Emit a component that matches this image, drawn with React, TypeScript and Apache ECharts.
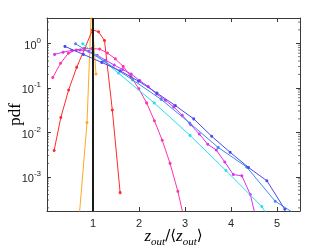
import React, { useEffect, useRef } from "react";
import * as echarts from "echarts";

// Series data (x = z_out/<z_out>, y = pdf)
const redX = [0.155, 0.3, 0.47, 0.645, 0.82, 0.99, 1.12, 1.25, 1.42, 1.59];
const redY = [0.0039, 0.0214, 0.089, 0.288, 0.76, 2.0, 1.82, 1.15, 0.0316, 0.00044];

const orangeX = [0.7, 0.87, 0.965, 1.065];
const orangeY = [0.000126, 0.0166, 6.0, 0.204];

const pinkX = [0.125, 0.295, 0.465, 0.635, 0.805, 0.975, 1.145, 1.315, 1.485, 1.655, 1.825, 1.995, 2.165, 2.335, 2.505, 2.675, 2.845, 3.015];
const pinkY = [0.17, 0.355, 0.596, 0.708, 0.759, 0.759, 0.741, 0.603, 0.447, 0.302, 0.178, 0.0955, 0.0457, 0.0182, 0.0066, 0.002, 0.00047, 0.000079];

const magentaX = [0.165, 0.35, 0.535, 0.72, 0.905, 1.09, 1.275, 1.46, 1.645, 1.83, 2.015, 2.2, 2.385, 2.57, 2.755, 2.94, 3.125, 3.31, 3.495, 3.68, 3.865, 4.05, 4.235, 4.42, 4.605];
const magentaY = [0.562, 0.631, 0.692, 0.708, 0.661, 0.537, 0.417, 0.324, 0.257, 0.204, 0.145, 0.107, 0.0724, 0.0525, 0.0372, 0.024, 0.0148, 0.00912, 0.00537, 0.00398, 0.00214, 0.00112, 0.00105, 0.000398, 0.000063];

const cyanX = [0.775, 1.55, 2.33, 3.11, 3.89, 4.67, 5.45];
const cyanY = [0.977, 0.214, 0.0457, 0.0085, 0.00138, 0.000214, 0.0000107];

const lightBlueX = [0.62, 1.24, 1.86, 2.48, 3.1, 3.72, 4.34, 4.96, 5.58];
const lightBlueY = [0.977, 0.398, 0.151, 0.055, 0.0162, 0.00457, 0.00166, 0.000282, 0.00011];

const blueX = [0.39, 0.79, 1.19, 1.59, 1.99, 2.39, 2.79, 3.19, 3.58, 3.98, 4.38, 4.78, 5.17];
const blueY = [0.851, 0.562, 0.372, 0.24, 0.141, 0.0759, 0.0398, 0.02, 0.00813, 0.00355, 0.00162, 0.000813, 0.000186];

const refLineX = 1;

const xTicks = [1, 2, 3, 4, 5];
const yDecades = [0.0001, 0.001, 0.01, 0.1, 1];
const minorMultipliers = [2, 3, 4, 5, 6, 7, 8, 9];

const X_MIN = 0;
const X_MAX = 5.5;
const Y_MIN = 1.7e-4;
const Y_MAX = 3.7;

const AX = "#3a3a3a";

function pairs(xs: number[], ys: number[]) {
  return xs.map((x, i) => [x, ys[i]]);
}

export default function App() {
  const ref = useRef<HTMLDivElement>(null);
  useEffect(() => {
    const chart = echarts.init(ref.current!, null, { renderer: "svg" });

    const mk = (name: string, xs: number[], ys: number[], color: string, z: number) => ({
      type: "line",
      name,
      data: pairs(xs, ys),
      symbol: "circle",
      symbolSize: 3,
      showSymbol: true,
      showAllSymbol: true,
      lineStyle: { color, width: 1 },
      itemStyle: { color },
      clip: true,
      silent: true,
      z,
    });

    const minorVals: number[][] = [];
    yDecades.forEach((d) =>
      minorMultipliers.forEach((m) => {
        const v = d * m;
        if (v > Y_MIN && v < Y_MAX) minorVals.push([X_MIN, v]);
      })
    );

    const axisLine = { show: true, onZero: false, lineStyle: { color: AX, width: 1 } };
    const tick = { show: true, inside: true, length: 4, lineStyle: { color: AX, width: 1 } };

    chart.setOption({
      animation: false,
      grid: { left: 47, right: 32, top: 18, bottom: 38, containLabel: false, outerBoundsMode: "none" },
      xAxis: [
        {
          type: "value",
          min: X_MIN,
          max: X_MAX,
          interval: 1,
          position: "bottom",
          axisLine,
          axisTick: tick,
          splitLine: { show: false },
          axisLabel: {
            color: "#262626",
            fontSize: 11,
            fontFamily: "Liberation Sans",
            margin: 6,
            formatter: (v: number) => (xTicks.indexOf(v) >= 0 ? String(v) : ""),
          },
          name: "{i|z}{s|out}{n|/⟨}{i|z}{s|out}{n|⟩}",
          nameLocation: "middle",
          nameGap: 13,
          nameMoveOverlap: false,
          nameTextStyle: {
            rich: {
              i: { fontFamily: "Liberation Serif", fontStyle: "italic", fontSize: 17, color: "#000", verticalAlign: "middle", lineHeight: 22 },
              s: { fontFamily: "Liberation Serif", fontStyle: "italic", fontSize: 11, color: "#000", verticalAlign: "bottom", lineHeight: 22 },
              n: { fontFamily: "DejaVu Serif", fontSize: 15, color: "#000", verticalAlign: "middle", lineHeight: 22 },
            },
          },
        },
        {
          type: "value",
          min: X_MIN,
          max: X_MAX,
          interval: 1,
          position: "top",
          axisLine,
          axisTick: tick,
          splitLine: { show: false },
          axisLabel: { show: false },
        },
      ],
      yAxis: [
        {
          type: "log",
          logBase: 10,
          min: Y_MIN,
          max: Y_MAX,
          position: "left",
          axisLine,
          axisTick: tick,
          splitLine: { show: false },
          axisLabel: {
            margin: 6,
            formatter: (v: number) => {
              const e = Math.log10(v);
              const r = Math.round(e);
              if (Math.abs(e - r) > 1e-6) return "";
              return "{b|10}{s|" + r + "}";
            },
            rich: {
              b: { fontSize: 11, fontFamily: "Liberation Sans", color: "#262626", verticalAlign: "bottom", lineHeight: 14 },
              s: { fontSize: 8, fontFamily: "Liberation Sans", color: "#262626", verticalAlign: "top", lineHeight: 14 },
            },
          },
          name: "pdf",
          nameLocation: "middle",
          nameGap: 24,
          nameMoveOverlap: false,
          nameRotate: 90,
          nameTextStyle: { fontFamily: "Liberation Serif", fontSize: 17, color: "#000" },
        },
        {
          type: "log",
          logBase: 10,
          min: Y_MIN,
          max: Y_MAX,
          position: "right",
          axisLine,
          axisTick: tick,
          splitLine: { show: false },
          axisLabel: { show: false },
        },
      ],
      series: [
        mk("orange", orangeX, orangeY, "#FFA826", 2),
        mk("red", redX, redY, "#FF2A2A", 3),
        mk("pink", pinkX, pinkY, "#FF33AA", 4),
        mk("magenta", magentaX, magentaY, "#D633F0", 5),
        mk("cyan", cyanX, cyanY, "#22E0F0", 6),
        mk("lightblue", lightBlueX, lightBlueY, "#3C8CF0", 7),
        mk("blue", blueX, blueY, "#4A48EE", 8),
        {
          type: "line",
          data: [
            [refLineX, Y_MIN],
            [refLineX, Y_MAX],
          ],
          symbol: "none",
          lineStyle: { color: "#1a1a1a", width: 2 },
          silent: true,
          z: 10,
        },
        {
          type: "custom",
          data: minorVals,
          silent: true,
          z: 11,
          renderItem: (_p: any, api: any) => {
            const v = api.value(1);
            const pl = api.coord([X_MIN, v]);
            const pr = api.coord([X_MAX, v]);
            return {
              type: "group",
              children: [
                { type: "line", shape: { x1: pl[0], y1: pl[1], x2: pl[0] + 2, y2: pl[1] }, style: { stroke: AX, lineWidth: 0.7 } },
                { type: "line", shape: { x1: pr[0] - 2, y1: pr[1], x2: pr[0], y2: pr[1] }, style: { stroke: AX, lineWidth: 0.7 } },
              ],
            };
          },
        },
      ],
    });
    return () => chart.dispose();
  }, []);
  return <div ref={ref} style={{ position: "fixed", left: 0, top: 0, width: 332, height: 249 }} />;
}
